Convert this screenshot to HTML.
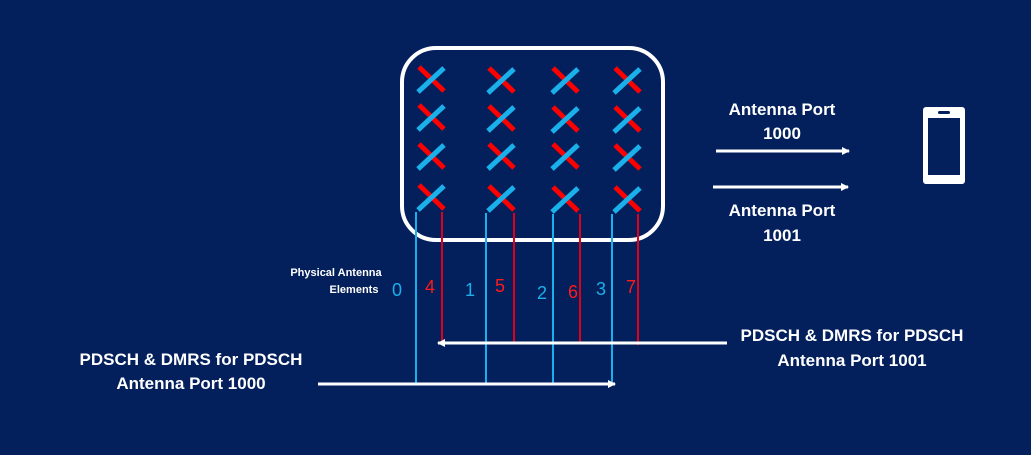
<!DOCTYPE html>
<html><head><meta charset="utf-8"><style>
html,body{margin:0;padding:0;background:#03205c;}
svg{display:block;}
text{font-family:"Liberation Sans",sans-serif;fill:#fff;}
</style></head><body>
<svg width="1031" height="455" viewBox="0 0 1031 455" xmlns="http://www.w3.org/2000/svg">
<defs>
<marker id="ah" markerWidth="8" markerHeight="8" refX="7" refY="4" orient="auto" markerUnits="userSpaceOnUse">
<path d="M0,0 L8,4 L0,8 Z" fill="#fff"/></marker>
<g id="x">
<line x1="-12" y1="-12" x2="13" y2="12" stroke="#ff0000" stroke-width="5"/>
<line x1="-13" y1="13" x2="13" y2="-11" stroke="#1ab0ea" stroke-width="5"/>
</g>
</defs>
<rect width="1031" height="455" fill="#03205c"/>
<rect x="402" y="48" width="261" height="192" rx="34" fill="none" stroke="#fff" stroke-width="4"/>
<g>
<use href="#x" x="431" y="79"/><use href="#x" x="501" y="80"/><use href="#x" x="565" y="80"/><use href="#x" x="627" y="80"/>
<use href="#x" x="431" y="117"/><use href="#x" x="501" y="118"/><use href="#x" x="565" y="119"/><use href="#x" x="627" y="119"/>
<use href="#x" x="431" y="156"/><use href="#x" x="501" y="156"/><use href="#x" x="565" y="156"/><use href="#x" x="627" y="157"/>
<use href="#x" x="431" y="197"/><use href="#x" x="501" y="198"/><use href="#x" x="565" y="199"/><use href="#x" x="627" y="199"/>
</g>
<g stroke="#1ab0ea" stroke-width="2">
<line x1="416" y1="212" x2="416" y2="384"/><line x1="486" y1="213" x2="486" y2="384"/>
<line x1="553" y1="214" x2="553" y2="384"/><line x1="612" y1="214" x2="612" y2="384"/>
</g>
<g stroke="#e0001a" stroke-width="2">
<line x1="442" y1="212" x2="442" y2="343"/><line x1="514" y1="213" x2="514" y2="343"/>
<line x1="580" y1="214" x2="580" y2="343"/><line x1="638" y1="214" x2="638" y2="345"/>
</g>
<g stroke="#fff" stroke-width="3">
<line x1="318" y1="384" x2="615" y2="384" marker-end="url(#ah)"/>
<line x1="727" y1="343" x2="438" y2="343" marker-end="url(#ah)"/>
<line x1="716" y1="151" x2="849" y2="151" marker-end="url(#ah)"/>
<line x1="713" y1="187" x2="848" y2="187" marker-end="url(#ah)"/>
</g>
<g font-size="18">
<text x="392" y="296" style="fill:#1ab0ea">0</text>
<text x="425" y="293" style="fill:#ff1a1a">4</text>
<text x="465" y="296" style="fill:#1ab0ea">1</text>
<text x="495" y="292" style="fill:#ff1a1a">5</text>
<text x="537" y="299" style="fill:#1ab0ea">2</text>
<text x="568" y="298" style="fill:#ff1a1a">6</text>
<text x="596" y="295" style="fill:#1ab0ea">3</text>
<text x="626" y="293" style="fill:#ff1a1a">7</text>
</g>
<text x="336" y="276" font-size="11" font-weight="bold" text-anchor="middle">Physical Antenna</text>
<text x="354" y="293" font-size="11" font-weight="bold" text-anchor="middle">Elements</text>
<g font-size="17" font-weight="bold" text-anchor="middle">
<text x="782" y="115">Antenna Port</text>
<text x="782" y="139">1000</text>
<text x="782" y="216">Antenna Port</text>
<text x="782" y="241">1001</text>
<text x="852" y="341">PDSCH &amp; DMRS for PDSCH</text>
<text x="852" y="366">Antenna Port 1001</text>
<text x="191" y="365">PDSCH &amp; DMRS for PDSCH</text>
<text x="191" y="389">Antenna Port 1000</text>
</g>
<rect x="923" y="107" width="42" height="77" rx="3" fill="#fff"/>
<rect x="928" y="118" width="32" height="57" fill="#03205c"/>
<rect x="938" y="111" width="12" height="3" rx="1.5" fill="#03205c"/>
</svg>
</body></html>
